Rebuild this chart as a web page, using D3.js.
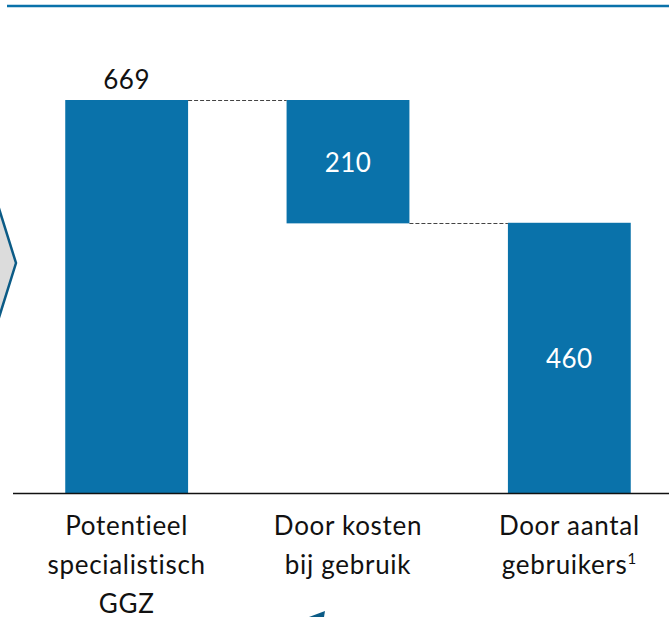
<!DOCTYPE html>
<html>
<head>
<meta charset="utf-8">
<script src="https://cdn.jsdelivr.net/npm/d3@7"></script>
<style>
  body { margin: 0; background: #fff; }
  svg { display: block; font-family: Lato, "Open Sans", sans-serif; font-variant-ligatures: none; }
</style>
</head>
<body>
<svg id="chart" width="669" height="617"></svg>
<script>
const categories = ['Potentieel|specialistisch|GGZ', 'Door kosten|bij gebruik', 'Door aantal|gebruikers'];
const values = [669, 210, 460];
const kinds = ['total', 'decrease', 'total'];

const svg = d3.select('#chart');
const width = +svg.attr('width');
const BLUE = '#0a72aa';

// top rule
svg.append('line')
  .attr('x1', 7).attr('x2', width)
  .attr('y1', 6).attr('y2', 6)
  .attr('stroke', BLUE).attr('stroke-width', 2.5);

// chevron from the previous panel
svg.append('path')
  .attr('d', 'M-4,199 L16,263 L-4,327')
  .attr('fill', '#dcdcdc')
  .attr('stroke', '#0b5b86')
  .attr('stroke-width', 2.5);

// little arrow tip at the bottom
svg.append('path')
  .attr('d', 'M309,617 L325,611 L324,617 Z')
  .attr('fill', '#0b5b86');

const x = d3.scaleBand()
  .domain(categories)
  .range([16, 680])
  .paddingInner(0.445)
  .paddingOuter(0.2225);

const y = d3.scaleLinear()
  .domain([0, values[0]])
  .range([493, 100]);

// waterfall extents
let running = 0;
const bars = categories.map((c, i) => {
  let lo, hi;
  if (kinds[i] === 'total') { lo = 0; hi = values[i]; running = values[i]; }
  else { hi = running; lo = running - values[i]; running = lo; }
  return { cat: c, value: values[i], lo, hi };
});

svg.selectAll('rect.bar')
  .data(bars)
  .enter()
  .append('rect')
  .attr('class', 'bar')
  .attr('x', (d) => x(d.cat))
  .attr('width', x.bandwidth())
  .attr('y', (d) => y(d.hi))
  .attr('height', (d) => y(d.lo) - y(d.hi))
  .attr('fill', BLUE);

// dashed connectors
const links = [
  { from: bars[0], to: bars[1], v: bars[0].hi },
  { from: bars[1], to: bars[2], v: bars[1].lo }
];
svg.selectAll('line.link')
  .data(links)
  .enter()
  .append('line')
  .attr('x1', (d) => x(d.from.cat) + x.bandwidth())
  .attr('x2', (d) => x(d.to.cat))
  .attr('y1', (d) => Math.round(y(d.v)) + 0.5)
  .attr('y2', (d) => Math.round(y(d.v)) + 0.5)
  .attr('stroke', '#444')
  .attr('stroke-width', 1)
  .attr('stroke-dasharray', '4,2');

// value labels
svg.selectAll('text.val')
  .data(bars)
  .enter()
  .append('text')
  .attr('x', (d) => x(d.cat) + x.bandwidth() / 2)
  .attr('y', (d, i) => i === 0 ? y(d.hi) - 11 : (y(d.hi) + y(d.lo)) / 2 + 10)
  .attr('text-anchor', 'middle')
  .attr('font-size', 26)
  .attr('letter-spacing', 0.5)
  .attr('fill', (d, i) => i === 0 ? '#111' : '#fff')
  .text((d) => d.value);

// baseline
svg.append('line')
  .attr('x1', 13).attr('x2', width)
  .attr('y1', 493.5).attr('y2', 493.5)
  .attr('stroke', '#111').attr('stroke-width', 1.6);

// category labels
const labels = svg.selectAll('text.cat')
  .data(categories)
  .enter()
  .append('text')
  .attr('text-anchor', 'middle')
  .attr('font-size', 26)
  .attr('letter-spacing', 0.7)
  .attr('fill', '#111');

labels.selectAll('tspan')
  .data((d) => d.split('|').map((t) => ({ t, c: d })))
  .enter()
  .append('tspan')
  .attr('x', (d) => x(d.c) + x.bandwidth() / 2)
  .attr('y', (d, i) => 535 + i * 39)
  .text((d) => d.t)
  .filter((d) => d.t === 'gebruikers')
  .append('tspan')
  .attr('font-size', 15)
  .attr('dy', -10)
  .text('1');
</script>
</body>
</html>
